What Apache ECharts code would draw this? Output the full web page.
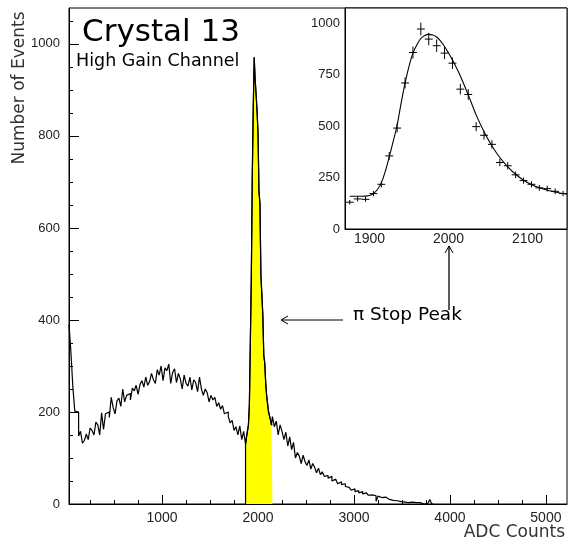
<!DOCTYPE html>
<html>
<head>
<meta charset="utf-8">
<script src="https://cdn.jsdelivr.net/npm/echarts@6/dist/echarts.min.js"></script>
<style>html,body{margin:0;padding:0;background:#fff}#c{width:569px;height:546px}</style>
</head>
<body>
<div id="c"></div>
<script>
// ---- Main histogram (ADC counts) ----
const riseStart = 30, riseWidth = 20;
const riseCounts = [
  390,330,255,202,200,148,158,132,138,152,
  140,165,160,150,178,172,150,198,162,196,
  200,188,232,210,196,224,230,212,250,222,
  236,240,226,252,246,258,238,260,268,254,
  276,258,266,284,270,262,292,280,300,268,
  296,290,304,262,286,294,264,284,272,250,
  280,262,256,276,248,270,264,244,276,250,
  236,250,242,222,236,226,232,212,220,206,
  214,196,200,190,176,182,160,168,150,170,
  140,158
];
const peakStart = 1870, peakWidth = 10;
const peakCounts = [130,146,144,172,217,355,490,709,857,971,922,890,854,805,679,653,497,455,411,323,307,263,235,217,200,196,183,172];
const peakErrors = [11,12,12,13,15,19,22,27,29,31,30,30,29,28,26,26,22,21,20,18,18,16,15,15,14,14,14,13];
const tailStart = 2150, tailWidth = 20;
const tailCounts = [
  190,168,180,150,172,158,140,156,126,146,
  118,134,100,112,104,88,106,92,84,96,
  76,88,80,68,78,64,70,60,62,56,
  60,50,54,52,44,48,42,44,38,36,
  34,30,33,27,29,24,27,22,24,21,
  19,20,16,18,6,17,14,12,15,11,
  10,12,8,9,7,8,5,7,4,6,
  3,5,4,2,3,1,3,2,0,2,
  1,1,10,0
];
// ---- Fit curve in the inset ----
const fitX = [1875,1890,1900,1905,1910,1915,1920,1925,1930,1935,1940,1945,1950,1955,1960,1965,1970,1975,1980,1985,1990,1995,2000,2005,2015,2025,2035,2045,2055,2065,2075,2085,2095,2105,2115,2125,2135,2145,2150];
const fitY = [159,159,163,172,192,224,280,350,425,505,610,708,790,854,895,925,940,945,942,932,912,886,855,821,743,651,554,472,403,347,302,266,237,216,200,188,180,172,169];
// ---- Axis tick labels ----
const mainXLabels = [1000,2000,3000,4000,5000];
const mainXMinor = [250,500,750,1250,1500,1750,2250,2500,2750,3250,3500,3750,4250,4500,4750,5250];
const mainYLabels = [0,200,400,600,800,1000];
const mainYMinor = [50,100,150,250,300,350,450,500,550,650,700,750,850,900,950,1050];
const insetXLabels = [1900,2000,2100];
const insetYLabels = [0,250,500,750,1000];

function toBins(start, width, counts) { return counts.map((c, i) => [start + i * width, c]); }
const peakBins = toBins(peakStart, peakWidth, peakCounts);
const histData = toBins(riseStart, riseWidth, riseCounts)
  .concat(peakBins)
  .concat(toBins(tailStart, tailWidth, tailCounts));
histData.push([tailStart + tailCounts.length * tailWidth, 0]);
const fillData = [[peakStart, 0]].concat(peakBins);
fillData.push([peakStart + peakCounts.length * peakWidth, peakCounts[peakCounts.length - 1]]);
const crossData = peakCounts.map((c, i) => [peakStart + i * peakWidth + peakWidth / 2, c, peakErrors[i]]);
const fitData = fitX.map((x, i) => [x, fitY[i]]);

const FONT = 'Liberation Sans';
const TXT = '#222';
const plain = v => String(v);
const chart = echarts.init(document.getElementById('c'), null, {renderer: 'canvas'});
chart.setOption({
  animation: false,
  backgroundColor: '#fff',
  grid: [
    {left: 69, top: 8, width: 498, height: 496, show: true, borderColor: '#000', borderWidth: 1, backgroundColor: 'transparent'},
    {left: 345, top: 8, width: 222, height: 221, show: true, borderColor: '#000', borderWidth: 1, backgroundColor: '#fff'}
  ],
  xAxis: [
    {type: 'value', gridIndex: 0, min: 30, max: 5220, position: 'bottom',
     axisLine: {show: true, onZero: false, lineStyle: {color: '#000', width: 1}},
     axisTick: {show: true, inside: true, length: 9, customValues: mainXLabels, lineStyle: {color: '#000'}},
     axisLabel: {show: true, customValues: mainXLabels, formatter: plain, margin: 7, color: TXT, fontFamily: FONT, fontSize: 14},
     splitLine: {show: false}},
    {type: 'value', gridIndex: 0, min: 30, max: 5220, position: 'bottom',
     axisLine: {show: false},
     axisTick: {show: true, inside: true, length: 4, customValues: mainXMinor, lineStyle: {color: '#000'}},
     axisLabel: {show: false}, splitLine: {show: false}},
    {type: 'value', gridIndex: 1, min: 1869, max: 2150, position: 'bottom',
     axisLine: {show: true, onZero: false, lineStyle: {color: '#000'}},
     axisTick: {show: false},
     axisLabel: {show: true, customValues: insetXLabels, formatter: plain, margin: 3, color: TXT, fontFamily: FONT, fontSize: 14},
     splitLine: {show: false}}
  ],
  yAxis: [
    {type: 'value', gridIndex: 0, min: 0, max: 1078, position: 'left',
     axisLine: {show: true, onZero: false, lineStyle: {color: '#000', width: 1}},
     axisTick: {show: true, inside: true, length: 10, customValues: mainYLabels, lineStyle: {color: '#000'}},
     axisLabel: {show: true, customValues: mainYLabels, formatter: plain, margin: 9, color: TXT, fontFamily: FONT, fontSize: 13},
     splitLine: {show: false}},
    {type: 'value', gridIndex: 0, min: 0, max: 1078, position: 'left',
     axisLine: {show: false},
     axisTick: {show: true, inside: true, length: 4, customValues: mainYMinor, lineStyle: {color: '#000'}},
     axisLabel: {show: false}, splitLine: {show: false}},
    {type: 'value', gridIndex: 1, min: 0, max: 1073, position: 'left',
     axisLine: {show: true, onZero: false, lineStyle: {color: '#000'}},
     axisTick: {show: false},
     axisLabel: {show: true, customValues: insetYLabels, formatter: plain, margin: 5, color: TXT, fontFamily: FONT, fontSize: 13},
     splitLine: {show: false}}
  ],
  series: [
    {type: 'line', xAxisIndex: 0, yAxisIndex: 0, step: 'end', data: fillData, symbol: 'none',
     lineStyle: {color: '#000', width: 1.2}, areaStyle: {color: '#ffff00', opacity: 1}, z: 2, silent: true},
    {type: 'line', xAxisIndex: 0, yAxisIndex: 0, step: 'end', data: histData, symbol: 'none',
     lineStyle: {color: '#000', width: 1.2}, z: 3, silent: true},
    {type: 'custom', xAxisIndex: 2, yAxisIndex: 2, data: crossData, z: 5, silent: true,
     renderItem: function (params, api) {
       const x = api.value(0), y = api.value(1), e = api.value(2);
       const a = api.coord([x - 5, y]), b = api.coord([x + 5, y]);
       const c = api.coord([x, y - e]), d = api.coord([x, y + e]);
       const st = {stroke: '#000', lineWidth: 1};
       return {type: 'group', children: [
         {type: 'line', shape: {x1: a[0], y1: a[1], x2: b[0], y2: b[1]}, style: st},
         {type: 'line', shape: {x1: c[0], y1: c[1], x2: d[0], y2: d[1]}, style: st}
       ]};
     }},
    {type: 'line', xAxisIndex: 2, yAxisIndex: 2, data: fitData, symbol: 'none', smooth: 0.35,
     lineStyle: {color: '#000', width: 1.1}, z: 4, silent: true}
  ],
  graphic: [
    {type: 'text', x: 82, y: 33, style: {text: 'Crystal 13', fontFamily: 'DejaVu Sans', fontSize: 31, fill: '#000', textVerticalAlign: 'middle'}},
    {type: 'text', x: 76, y: 61, style: {text: 'High Gain Channel', fontFamily: 'DejaVu Sans', fontSize: 17.5, fill: '#000', textVerticalAlign: 'middle'}},
    {type: 'text', x: 20, y: 88, rotation: Math.PI / 2, style: {text: 'Number of Events', fontFamily: 'DejaVu Sans', fontSize: 17, fill: '#333', textAlign: 'center', textVerticalAlign: 'middle'}},
    {type: 'text', x: 565, y: 533, style: {text: 'ADC Counts', fontFamily: 'DejaVu Sans', fontSize: 17, fill: '#333', textAlign: 'right', textVerticalAlign: 'middle'}},
    {type: 'text', x: 353, y: 315, style: {text: 'π Stop Peak', fontFamily: 'DejaVu Sans', fontSize: 18.5, fill: '#000', textVerticalAlign: 'middle'}},
    {type: 'line', shape: {x1: 281, y1: 320, x2: 343, y2: 320}, style: {stroke: '#000', lineWidth: 1}},
    {type: 'polyline', shape: {points: [[288, 316], [281, 320], [288, 324]]}, style: {stroke: '#000', lineWidth: 1, fill: null}},
    {type: 'line', shape: {x1: 449, y1: 246, x2: 449, y2: 310}, style: {stroke: '#000', lineWidth: 1.3}},
    {type: 'polyline', shape: {points: [[445, 253], [449, 246], [453, 253]]}, style: {stroke: '#000', lineWidth: 1, fill: null}}
  ]
});
</script>
</body>
</html>
